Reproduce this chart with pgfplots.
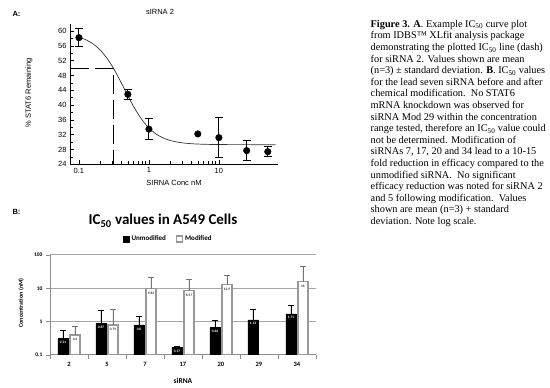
\documentclass[border=0pt]{standalone}
\usepackage{pgfplots}
\pgfplotsset{compat=1.18}
\usepackage{pgfplotstable}
\usepackage{fontspec}
\setmainfont{Liberation Serif}
\newfontfamily\arial{Liberation Sans}
\newfontfamily\calibri{Carlito}

\pgfplotstableread{
x y e lab
0 0.31 0.25 0.31
1 0.87 1.23 0.87
2 0.80 0.60 0.8
3 0.17 0.012 0.17
4 0.66 0.42 0.66
5 1.13 1.27 1.13
6 1.71 1.30 1.71
}\unmod
\pgfplotstableread{
x y e lab
0 0.40 0.31 0.4
1 0.79 1.50 0.79
2 9.83 12.0 9.83
3 8.57 9.5 8.57
4 12.9 11.0 12.9
6 16.0 29.0 16
}\modif

\begin{document}
\begin{tikzpicture}[x=1pt,y=1pt]
\useasboundingbox (0,0) rectangle (550,388);
% ---------------- Panel A ----------------
\node[anchor=base west, font=\arial\bfseries\fontsize{7.5}{9}\selectfont] at (9,371.3) {A:};
\node[anchor=base, font=\arial\fontsize{7.5}{9}\selectfont] at (160,373) {sIRNA 2};
\node[rotate=90, font=\arial\fontsize{7.5}{9}\selectfont] at (29,295) {\% STAT6 Remaining};
\node[anchor=base, font=\arial\fontsize{7.5}{9}\selectfont] at (174,202.3) {SIRNA Conc nM};
\begin{axis}[
  at={(70pt,223.7pt)}, anchor=south west,
  scale only axis, width=208pt, height=140.7pt,
  xmode=log, xmin=0.0745, xmax=70,
  ymin=24, ymax=62,
  axis lines=left, axis line style={-, line width=0.8pt},
  tick align=inside,
  xtick={0.1,1,10}, xticklabels={0.1,1,10},
  ytick={24,28,...,60},
  minor y tick num=1,
  major tick length=4pt, minor tick length=3pt,
  tick style={black, line width=0.6pt},
  tick label style={font=\arial\fontsize{7.5}{9}\selectfont},
  /pgf/number format/assume math mode=true,
  clip=false,
]
\addplot[black!80, line width=0.7pt, smooth] coordinates {
(0.1,58.33) (0.126,57.62) (0.158,56.56) (0.2,54.91) (0.25,52.72) (0.316,49.72)
(0.4,46.12) (0.5,42.52) (0.63,39.01) (0.8,35.97) (1,33.81) (1.26,32.21)
(1.58,31.16) (2,30.45) (2.5,30.02) (3.16,29.74) (4,29.57) (5,29.47)
(6.3,29.40) (8,29.36) (10,29.33) (20,29.31) (65,29.30)
};
\addplot[black, line width=0.9pt, dash pattern=on 19pt off 6pt] coordinates {
(0.0745,50) (0.31,50) (0.31,24)
};
\addplot[only marks, mark=*, mark size=3.3pt, black,
  error bars/.cd, y dir=both, y explicit,
  error bar style={line width=1pt, black},
  error mark options={rotate=90, mark size=4pt, line width=1pt, black}] coordinates {
(0.1,58.2) +- (0,2.5)
(0.5,42.9) +- (0,1.3)
(1,33.5) +- (0,2.8)
(10,31.2) +- (0,5.4)
(25,27.7) +- (0,2.8)
(50,27.4) +- (0,1.3)
};
\addplot[only marks, mark=*, mark size=3.3pt, black] coordinates {(5,32.2)};
\end{axis}

% ---------------- Caption ----------------
\node[anchor=north west, align=left, inner sep=0pt, font=\fontsize{10.3}{11.6}\selectfont] at (370.5,368) {%
\textbf{Figure 3. A}. Example IC\textsubscript{50} curve plot\\
from IDBS™ XLfit analysis package\\
demonstrating the plotted IC\textsubscript{50} line (dash)\\
for siRNA 2. Values shown are mean\\
(n=3) ± standard deviation. \textbf{B}. IC\textsubscript{50} values\\
for the lead seven siRNA before and after\\
chemical modification.\ \ No STAT6\\
mRNA knockdown was observed for\\
siRNA Mod 29 within the concentration\\
range tested, therefore an IC\textsubscript{50} value could\\
not be determined. Modification of\\
siRNAs 7, 17, 20 and 34 lead to a 10-15\\
fold reduction in efficacy compared to the\\
unmodified siRNA.\ \ No significant\\
efficacy reduction was noted for siRNA 2\\
and 5 following modification.\ \ Values\\
shown are mean (n=3) + standard\\
deviation. Note log scale.};

% ---------------- Panel B ----------------
\node[anchor=base west, font=\arial\bfseries\fontsize{7.5}{9}\selectfont] at (9,173) {B:};
\node[anchor=base, font=\calibri\bfseries\fontsize{15}{18}\selectfont] at (163,163) {IC\textsubscript{50} values in A549 Cells};
\node[rotate=90, font=\calibri\bfseries\fontsize{6}{7}\selectfont] at (21,85) {Concentration (nM)};
\node[anchor=base, font=\calibri\bfseries\fontsize{7.5}{9}\selectfont] at (183,4.5) {siRNA};
\begin{axis}[
  at={(50pt,33pt)}, anchor=south west,
  scale only axis, width=266pt, height=100pt,
  ymode=log, ymin=0.1, ymax=100, log origin y=infty,
  xmin=-0.5, xmax=6.5,
  ybar, bar width=10pt,
  axis lines=left, axis line style={-, black!45, line width=1pt},
  xtick={0,...,6}, xticklabels={2,5,7,17,20,29,34},
  xtick style={draw=none},
  extra x ticks={-0.5,0.5,...,6.5}, extra x tick labels={},
  extra x tick style={xtick style={draw=black!45, line width=0.8pt}},
  tick align=outside,
  major tick length=4pt, minor tick length=4pt,
  ytick={0.1,1,10,100}, yticklabels={0.1,1,10,100},
  yminorticks=false,
  ymajorgrids, grid style={black!35, line width=1pt},
  ytick style={black!45, line width=0.8pt},
  xticklabel style={font=\calibri\bfseries\fontsize{6.5}{8}\selectfont},
  yticklabel style={font=\calibri\bfseries\fontsize{5.5}{7}\selectfont},
  legend style={at={(0.445,1.16)}, anchor=center, draw=none, fill=none,
    legend columns=2, font=\calibri\bfseries\fontsize{7}{8}\selectfont,
    /tikz/every even column/.append style={column sep=8pt}},
  legend image code/.code={\draw[#1] (0pt,-3pt) rectangle (6pt,3pt);},
]
\addplot[fill=black, draw=black, bar shift=-6pt,
  point meta=explicit symbolic, nodes near coords,
  every node near coord/.append style={anchor=north, yshift=-2pt, text=white,
     font=\calibri\bfseries\fontsize{3.5}{4}\selectfont, inner sep=0.5pt},
  error bars/.cd, y dir=plus, y explicit,
  error bar style={line width=0.9pt, black},
  error mark options={rotate=90, mark size=3pt, line width=0.9pt, black}]
  table[x=x, y=y, y error plus=e, meta=lab] {\unmod};
\addlegendentry{Unmodified}
\addplot[fill=white, draw=black!40, line width=1.2pt, bar shift=6pt,
  point meta=explicit symbolic, nodes near coords,
  every node near coord/.append style={anchor=north, yshift=-2pt, text=black!80,
     font=\calibri\bfseries\fontsize{3.5}{4}\selectfont, inner sep=0.5pt},
  error bars/.cd, y dir=plus, y explicit,
  error bar style={line width=0.9pt, black!55},
  error mark options={rotate=90, mark size=3pt, line width=0.9pt, black!55}]
  table[x=x, y=y, y error plus=e, meta=lab] {\modif};
\addlegendentry{Modified}
\end{axis}
\end{tikzpicture}
\end{document}
